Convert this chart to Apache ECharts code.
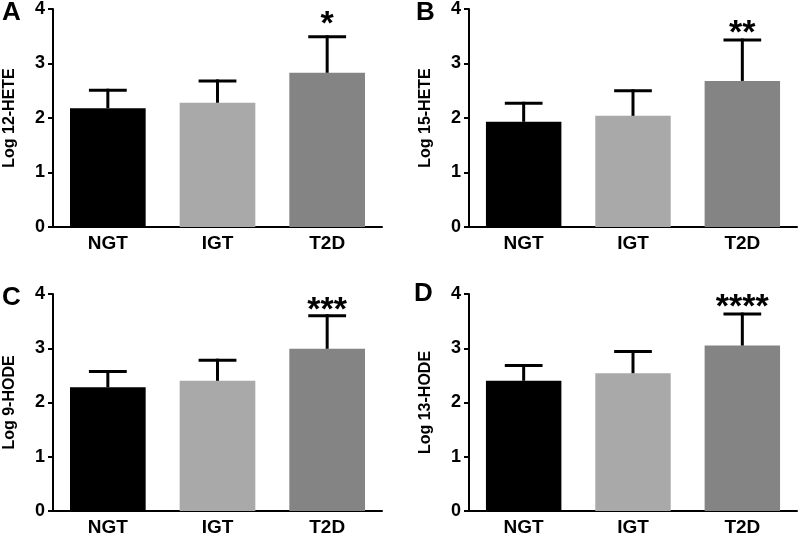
<!DOCTYPE html>
<html>
<head>
<meta charset="utf-8">
<script src="https://cdn.jsdelivr.net/npm/echarts@6/dist/echarts.min.js"></script>
<style>html,body{margin:0;padding:0;background:#fff}#c{width:800px;height:539px}</style>
</head>
<body>
<div id="c"></div>
<script>
const categories = ['NGT', 'IGT', 'T2D'];
const panelLetters = ['A', 'B', 'C', 'D'];
const yNames = ['Log 12-HETE', 'Log 15-HETE', 'Log 9-HODE', 'Log 13-HODE'];
const yTicks = [0, 1, 2, 3, 4];
// means
const meanA = [2.18, 2.28, 2.83];
const meanB = [1.93, 2.04, 2.68];
const meanC = [2.28, 2.40, 2.99];
const meanD = [2.40, 2.54, 3.05];
// error (upper) magnitudes
const errA = [0.33, 0.40, 0.66];
const errB = [0.34, 0.46, 0.75];
const errC = [0.29, 0.38, 0.61];
const errD = [0.28, 0.40, 0.58];
// significance marks
const starsA = ['', '', '*'];
const starsB = ['', '', '**'];
const starsC = ['', '', '***'];
const starsD = ['', '', '****'];

const means = [meanA, meanB, meanC, meanD];
const errs = [errA, errB, errC, errD];
const stars = [starsA, starsB, starsC, starsD];

// styling
const barColors = ['#000000', '#a9a9a9', '#848484'];
const grids = [
  {left: 53, top: 9, width: 329, height: 218},
  {left: 469, top: 9, width: 328, height: 218},
  {left: 53, top: 294, width: 329, height: 217},
  {left: 469, top: 294, width: 328, height: 217}
];
const letterPos = [[2, 0], [416, 0], [2, 285], [414, 281]];
const starGap = [19, 13, 12, 13];
const FONT = 'Liberation Sans, Arial, sans-serif';

const option = {
  animation: false,
  backgroundColor: '#fff',
  title: panelLetters.map((t, i) => ({
    text: t, left: letterPos[i][0], top: letterPos[i][1], padding: 0,
    textStyle: {fontFamily: FONT, fontWeight: 'bold', fontSize: 26, color: '#000'}
  })),
  grid: grids,
  xAxis: grids.map((g, i) => ({
    type: 'category', gridIndex: i, data: categories,
    axisLine: {lineStyle: {color: '#000', width: 2}},
    axisTick: {alignWithLabel: true, length: 5, lineStyle: {color: '#000', width: 2}},
    axisLabel: {color: '#000', fontFamily: FONT, fontWeight: 'bold', fontSize: 19, margin: 7}
  })),
  yAxis: grids.map((g, i) => ({
    type: 'value', gridIndex: i, min: 0, max: 4, interval: 1,
    name: yNames[i], nameLocation: 'middle', nameGap: 35,
    nameTextStyle: {color: '#000', fontFamily: FONT, fontWeight: 'bold', fontSize: 16},
    splitLine: {show: false},
    axisLine: {show: true, lineStyle: {color: '#000', width: 2}},
    axisTick: {show: true, length: 5, lineStyle: {color: '#000', width: 2}},
    axisLabel: {color: '#000', fontFamily: FONT, fontWeight: 'bold', fontSize: 18, margin: 8,
      formatter: v => String(yTicks[v] !== undefined ? yTicks[v] : v)}
  })),
  series: []
};

for (let i = 0; i < 4; i++) {
  option.series.push({
    type: 'bar', xAxisIndex: i, yAxisIndex: i, barWidth: '69%',
    data: means[i].map((v, k) => ({value: v, itemStyle: {color: barColors[k]}})),
    z: 2
  });
  const st = stars[i];
  const gap = starGap[i];
  option.series.push({
    type: 'custom', xAxisIndex: i, yAxisIndex: i, z: 3,
    data: means[i].map((v, k) => [k, v, errs[i][k]]),
    renderItem: function (params, api) {
      const x = api.value(0), m = api.value(1), e = api.value(2);
      const p0 = api.coord([x, m]);
      const p1 = api.coord([x, m + e]);
      const bw = api.size([1, 0])[0] * 0.69;
      const half = bw * 0.25;
      const children = [
        {type: 'line', shape: {x1: p0[0], y1: p0[1], x2: p1[0], y2: p1[1] - 1.5}, style: {stroke: '#000', lineWidth: 3}},
        {type: 'line', shape: {x1: p1[0] - half, y1: p1[1], x2: p1[0] + half, y2: p1[1]}, style: {stroke: '#000', lineWidth: 3}}
      ];
      const s = st[params.dataIndex];
      if (s) {
        children.push({type: 'text', x: p1[0], y: p1[1] - gap + 7,
          style: {text: s, textAlign: 'center', textVerticalAlign: 'middle', fill: '#000',
            font: 'bold 34px ' + FONT}});
      }
      return {type: 'group', children: children};
    }
  });
}

const chart = echarts.init(document.getElementById('c'), null, {renderer: 'canvas'});
chart.setOption(option);
</script>
</body>
</html>
